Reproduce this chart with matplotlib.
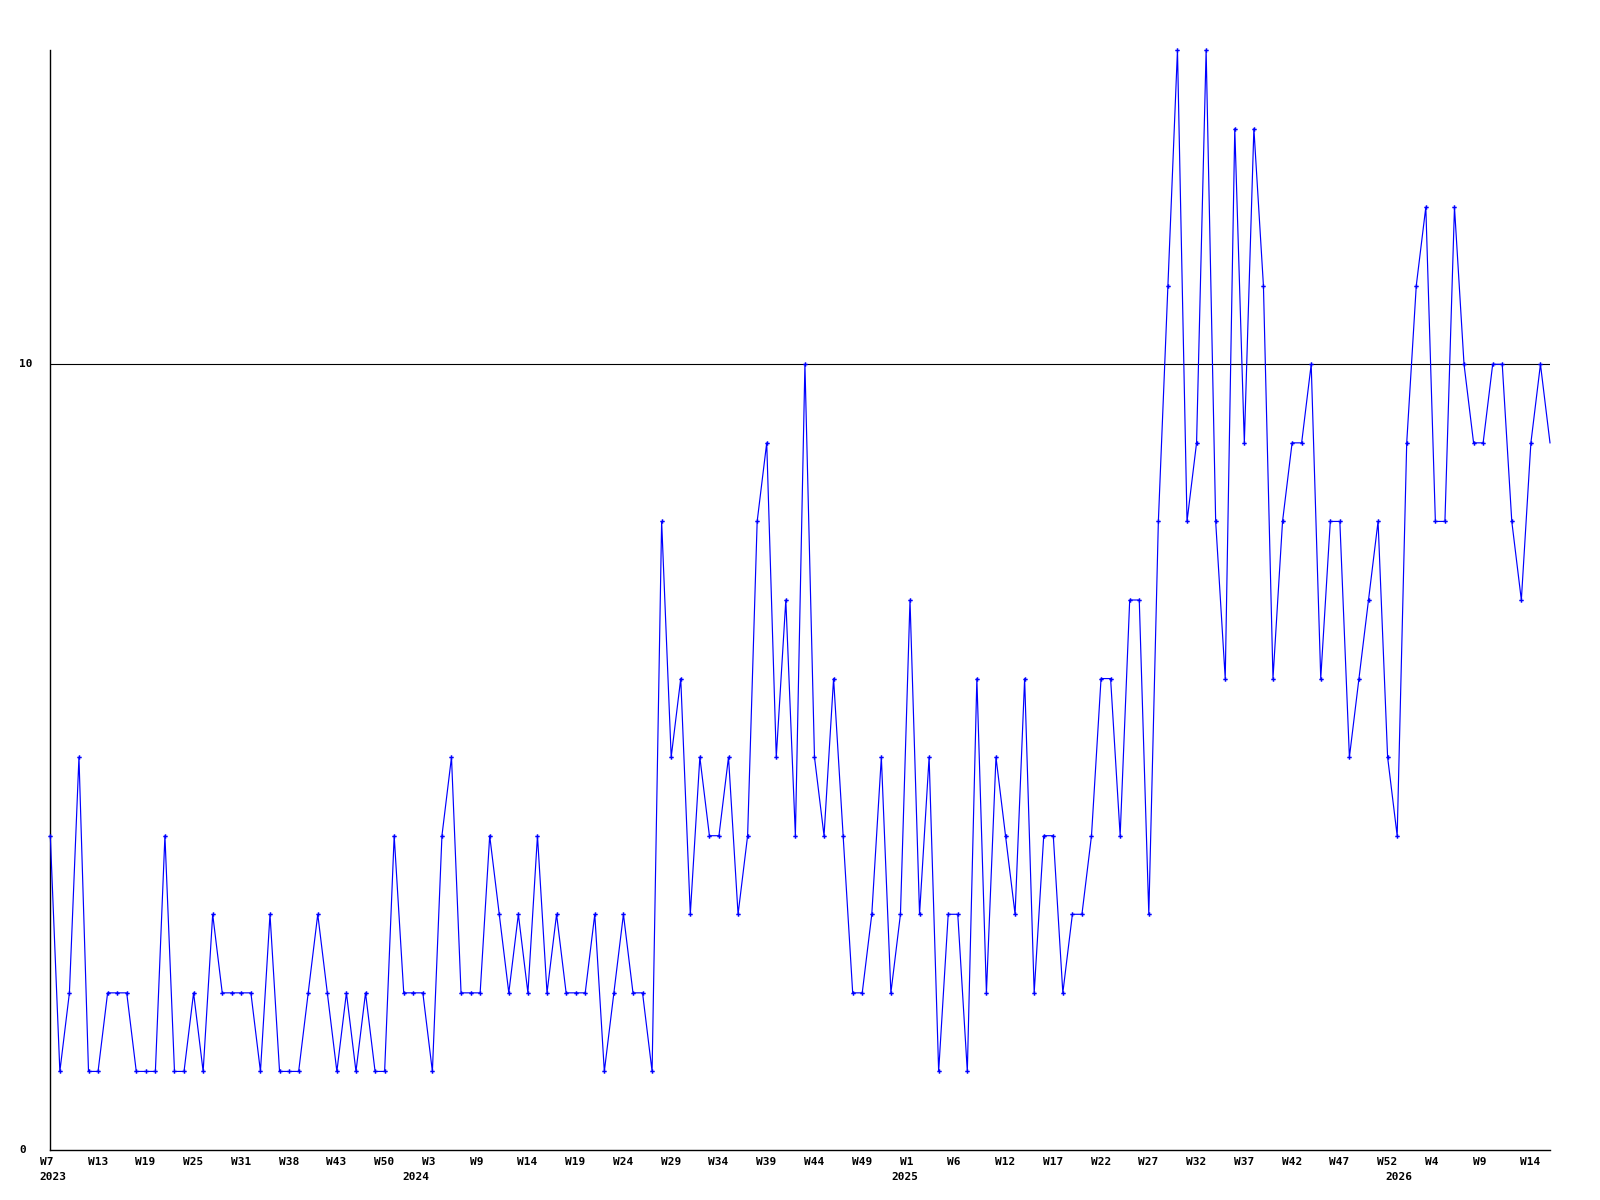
import matplotlib
matplotlib.use("Agg")
import matplotlib.pyplot as plt
from matplotlib.transforms import blended_transform_factory, offset_copy

# ---- data ----
values = [4, 1, 2, 5, 1, 1, 2, 2, 2, 1, 1, 1, 4, 1, 1, 2, 1, 3, 2, 2, 2, 2, 1, 3, 1, 1, 1, 2, 3, 2, 1,
          2, 1, 2, 1, 1, 4, 2, 2, 2, 1, 4, 5, 2, 2, 2, 4, 3, 2, 3, 2, 4, 2, 3, 2, 2, 2, 3, 1, 2, 3, 2, 2, 1,
          8, 5, 6, 3, 5, 4, 4, 5, 3, 4, 8, 9, 5, 7, 4, 10, 5, 4, 6, 4, 2, 2, 3, 5, 2, 3, 7, 3, 5, 1, 3, 3, 1, 6,
          2, 5, 4, 3, 6, 2, 4, 4, 2, 3, 3, 4, 6, 6, 4, 7, 7, 3, 8, 11, 14, 8, 9, 14, 8, 6, 13, 9, 13, 11, 6,
          8, 9, 9, 10, 6, 8, 8, 5, 6, 7, 8, 5, 4, 9, 11, 12, 8, 8, 12, 10, 9, 9, 10, 10, 8, 7, 9, 10, 9]

week_labels = ["W7", "W13", "W19", "W25", "W31", "W38", "W43", "W50",
               "W3", "W9", "W14", "W19", "W24", "W29", "W34", "W39", "W44", "W49",
               "W1", "W6", "W12", "W17", "W22", "W27", "W32", "W37", "W42", "W47", "W52",
               "W4", "W9", "W14"]
year_labels = ["2023", "2024", "2025", "2026"]
year_starts = [0, 38.0, 89.1, 140.9]   # in point-index units
y_labels = [0, 10]

BLUE = "#0000ff"
FONT = dict(family="DejaVu Sans Mono", fontweight="bold", fontsize=8)

fig = plt.figure(figsize=(16, 12), dpi=100)
W, H = 1600, 1200
left, right, top, bottom = 50.3, 1550, 50, 1150
ax = fig.add_axes([left / W, 1 - bottom / H, (right - left) / W, (bottom - top) / H])

n = len(values)
x = list(range(n))
ax.plot(x, values, color=BLUE, lw=0.85, marker="P", ms=3.2, mew=0,
        markevery=list(range(n - 1)), clip_on=False, zorder=3)
ax.axhline(10, color="black", lw=0.8, zorder=2)

ax.set_xlim(0, n - 1)
ax.set_ylim(0, 14)
for s in ["top", "right"]:
    ax.spines[s].set_visible(False)
for s in ["left", "bottom"]:
    ax.spines[s].set_linewidth(1.0)
    ax.spines[s].set_color("black")
ax.set_xticks([])
ax.set_yticks([])

# x labels (week) every 5 points
bt = blended_transform_factory(ax.transData, ax.transAxes)
wk_tr = offset_copy(bt, fig=fig, x=-10.5, y=-11.7, units="dots")
for i, lab in enumerate(week_labels):
    ax.text(i * 5, 0, lab, transform=wk_tr, ha="left", va="center", **FONT)

yr_tr = offset_copy(bt, fig=fig, x=-10.5, y=-26.7, units="dots")
for pos, lab in zip(year_starts, year_labels):
    ax.text(pos, 0, lab, transform=yr_tr, ha="left", va="center", **FONT)

# y labels
yb = blended_transform_factory(fig.transFigure, ax.transData)
for v in y_labels:
    ax.text(19.5 / W, v, str(v), transform=yb, ha="left", va="center", **FONT)

fig.savefig("out.png", dpi=100, facecolor="white")
